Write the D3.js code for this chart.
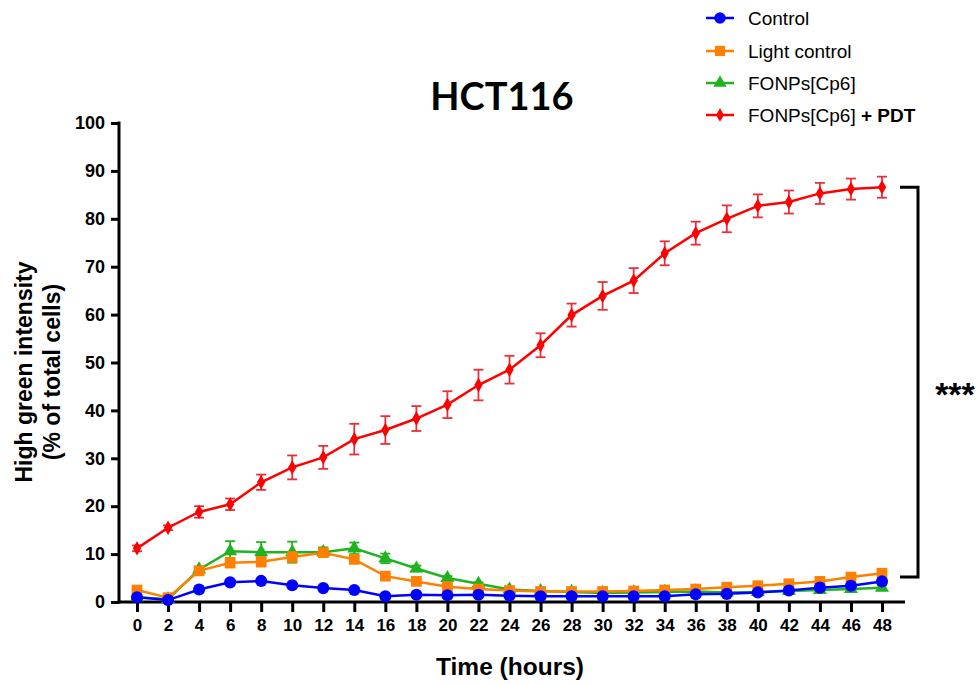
<!DOCTYPE html>
<html><head><meta charset="utf-8">
<script src="https://cdn.jsdelivr.net/npm/d3@7"></script>
<style>body{margin:0;background:#fff}svg{display:block}</style>
</head><body>
<svg id="chart" width="979" height="684"></svg>
<script>
const hours = [0,2,4,6,8,10,12,14,16,18,20,22,24,26,28,30,32,34,36,38,40,42,44,46,48];
const yTicks = [0,10,20,30,40,50,60,70,80,90,100];
const seriesNames = ["Control","Light control","FONPs[Cp6]","FONPs[Cp6] + PDT"];
const controlVals = [1.0,0.4,2.6,4.1,4.4,3.5,2.9,2.5,1.2,1.5,1.4,1.5,1.3,1.2,1.2,1.2,1.2,1.2,1.6,1.7,2.0,2.4,3.0,3.4,4.3];
const controlErr  = [0.3,0.3,0.3,0.4,0.4,0.3,0.3,0.3,0.3,0.3,0.3,0.3,0.3,0.3,0.3,0.3,0.3,0.3,0.3,0.3,0.3,0.3,0.3,0.3,0.4];
const lightVals = [2.5,0.9,6.5,8.2,8.4,9.4,10.3,8.9,5.4,4.3,3.2,2.7,2.4,2.2,2.2,2.2,2.3,2.5,2.7,3.1,3.4,3.8,4.3,5.2,6.0];
const lightErr  = [0.4,0.3,0.5,1.0,1.0,1.0,0.8,0.6,0.4,0.3,0.3,0.3,0.3,0.3,0.3,0.3,0.3,0.3,0.3,0.3,0.3,0.3,0.3,0.4,0.4];
const fonpVals = [1.0,0.6,6.8,10.6,10.4,10.4,10.4,11.2,9.1,7.0,5.0,3.8,2.6,2.3,2.1,1.9,2.0,2.1,2.2,2.0,2.1,2.3,2.5,2.7,3.0];
const fonpErr  = [0.3,0.3,0.6,2.1,2.1,2.2,1.0,1.2,1.0,0.6,0.4,0.3,0.3,0.3,0.3,0.3,0.3,0.3,0.3,0.3,0.3,0.3,0.4,0.5,0.5];
const pdtVals = [11.2,15.5,18.8,20.4,25.0,28.1,30.2,34.0,35.9,38.3,41.2,45.3,48.5,53.6,59.9,63.9,67.1,72.8,77.0,80.0,82.7,83.5,85.3,86.2,86.6];
const pdtErr  = [0.6,0.5,1.2,1.2,1.6,2.5,2.4,3.2,2.9,2.6,2.8,3.2,2.9,2.5,2.4,2.9,2.6,2.5,2.4,2.8,2.4,2.4,2.2,2.2,2.2];
const colors = ["#0000ff","#ff8000","#1fb31f","#ff0000"];
const errColors = ["#0000ff","#ff8000","#1fb31f","#e8303a"];
const symbols = [d3.symbolCircle, d3.symbolSquare, d3.symbolTriangle, d3.symbolDiamond];
const symSizes = [115, 115, 85, 60];

const series = [
  {name:seriesNames[0], vals:controlVals, err:controlErr},
  {name:seriesNames[1], vals:lightVals, err:lightErr},
  {name:seriesNames[2], vals:fonpVals, err:fonpErr},
  {name:seriesNames[3], vals:pdtVals, err:pdtErr}
];

const svg = d3.select("#chart");
const x = d3.scaleLinear().domain([0,48]).range([137,882]);
const y = d3.scaleLinear().domain([0,100]).range([602,123]);
const axisX0 = 119, axisX1 = 905;
const FONT = "Liberation Sans, Arial, sans-serif";

// Y axis
const yAxis = svg.append("g").attr("transform",`translate(${axisX0},0)`)
  .call(d3.axisLeft(y).tickValues(yTicks).tickSize(8).tickPadding(6).tickSizeOuter(0));
yAxis.select(".domain").remove();
yAxis.selectAll(".tick line").attr("stroke","#000").attr("stroke-width",3);
yAxis.selectAll(".tick text").attr("font-family",FONT)
  .attr("font-weight","bold").attr("font-size",18).attr("fill","#000");
svg.append("line").attr("x1",axisX0).attr("x2",axisX0).attr("y1",y(100)-1.5).attr("y2",y(0)+1.5)
  .attr("stroke","#000").attr("stroke-width",3);

// X axis
const xAxis = svg.append("g").attr("transform",`translate(0,${y(0)})`)
  .call(d3.axisBottom(x).tickValues(hours).tickSize(10).tickPadding(7).tickSizeOuter(0));
xAxis.select(".domain").remove();
xAxis.selectAll(".tick line").attr("stroke","#000").attr("stroke-width",3);
xAxis.selectAll(".tick text").attr("font-family",FONT)
  .attr("font-weight","bold").attr("font-size",17).attr("fill","#000");
svg.append("line").attr("x1",axisX0-1.5).attr("x2",axisX1).attr("y1",y(0)).attr("y2",y(0))
  .attr("stroke","#000").attr("stroke-width",3);

// Series (draw order: FONPs, Light control, Control, PDT)
const order = [2,1,0,3];
const line = d3.line().x((d,i)=>x(hours[i])).y(d=>y(d));
order.forEach(si=>{
  const s = series[si];
  const g = svg.append("g");
  const eb = g.selectAll("g.eb").data(s.vals.map((v,i)=>({h:hours[i],v,e:s.err[i]}))).enter().append("g");
  eb.append("line").attr("x1",d=>x(d.h)).attr("x2",d=>x(d.h)).attr("y1",d=>y(d.v+d.e)).attr("y2",d=>y(d.v-d.e))
    .attr("stroke",errColors[si]).attr("stroke-width",1.8);
  eb.append("line").attr("x1",d=>x(d.h)-5).attr("x2",d=>x(d.h)+5).attr("y1",d=>y(d.v+d.e)).attr("y2",d=>y(d.v+d.e))
    .attr("stroke",errColors[si]).attr("stroke-width",1.8);
  eb.append("line").attr("x1",d=>x(d.h)-5).attr("x2",d=>x(d.h)+5).attr("y1",d=>y(d.v-d.e)).attr("y2",d=>y(d.v-d.e))
    .attr("stroke",errColors[si]).attr("stroke-width",1.8);
  g.append("path").attr("d",line(s.vals)).attr("fill","none").attr("stroke",colors[si]).attr("stroke-width",2.5);
  g.selectAll("path.m").data(s.vals).enter().append("path").attr("class","m")
    .attr("d",d3.symbol().type(symbols[si]).size(symSizes[si]))
    .attr("transform",(d,i)=>`translate(${x(hours[i])},${y(d)})`)
    .attr("fill",colors[si]);
});

// Significance bracket
const bx = 918, bTop = y(pdtVals[pdtVals.length-1]), bBot = y(5.2);
svg.append("path").attr("d",`M${bx-18},${bTop}H${bx}V${bBot}H${bx-18}`)
  .attr("fill","none").attr("stroke","#000").attr("stroke-width",3);
svg.append("text").attr("x",955).attr("y",406).attr("text-anchor","middle")
  .attr("font-family",FONT).attr("font-weight","bold").attr("font-size",34).text("***");

// Title
svg.append("text").attr("x",502).attr("y",110).attr("text-anchor","middle")
  .attr("font-family","Lato, 'Open Sans', sans-serif").attr("font-weight","bold").attr("font-size",38).text("HCT116");

// Axis titles
svg.append("text").attr("x",510).attr("y",675).attr("text-anchor","middle")
  .attr("font-family",FONT).attr("font-weight","bold").attr("font-size",24.5).text("Time (hours)");
const yl = svg.append("text").attr("transform","translate(0,372) rotate(-90)").attr("text-anchor","middle")
  .attr("font-family",FONT).attr("font-weight","bold").attr("font-size",23);
yl.append("tspan").attr("x",0).attr("y",32).text("High green intensity");
yl.append("tspan").attr("x",0).attr("y",60).text("(% of total cells)");

// Legend
const legY = [18,51,83,115];
series.forEach((s,i)=>{
  const g = svg.append("g").attr("transform",`translate(706,${legY[i]})`);
  g.append("line").attr("x1",0).attr("x2",28).attr("stroke",colors[i]).attr("stroke-width",2.5);
  g.append("path").attr("d",d3.symbol().type(symbols[i]).size(symSizes[i]*0.9)).attr("transform","translate(14,0)").attr("fill",colors[i]);
  const t = g.append("text").attr("x",42).attr("y",7)
    .attr("font-family",FONT).attr("font-size",19).attr("fill","#000");
  if(i===3){
    t.append("tspan").text("FONPs[Cp6] ");
    t.append("tspan").attr("font-weight","bold").text("+ PDT");
  } else t.text(s.name);
});
</script>
</body></html>
